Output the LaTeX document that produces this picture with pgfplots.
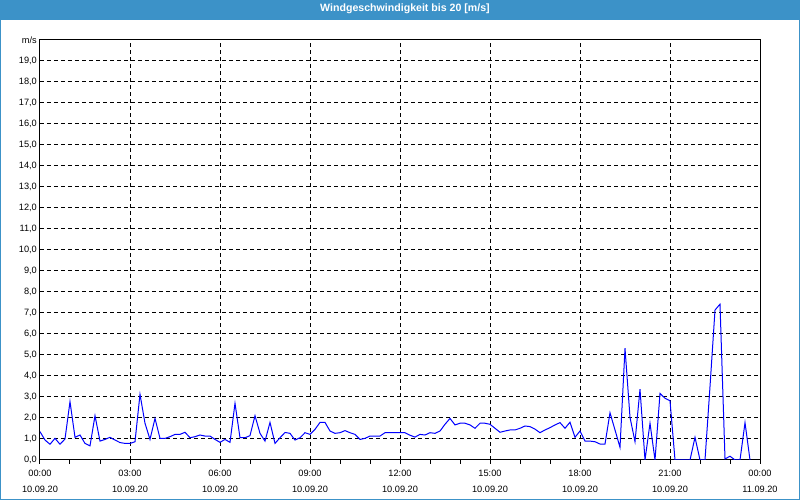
\documentclass[border=0pt]{standalone}
\usepackage{pgfplots}
\pgfplotsset{compat=1.18}
\usepackage{fontspec}
\setmainfont{Liberation Sans}
\definecolor{barblue}{RGB}{60,146,200}
\pgfplotstableread{
t v
0 1.35
10 0.95
20 0.75
30 1.03
40 0.75
50 1.00
60 2.78
70 1.08
80 1.19
90 0.79
100 0.67
110 2.11
120 0.90
130 0.98
140 1.08
150 0.95
160 0.83
170 0.79
180 0.79
190 0.87
200 3.13
210 1.75
220 0.98
230 1.98
240 1.03
250 1.03
260 1.11
270 1.22
280 1.22
290 1.32
300 1.06
310 1.11
320 1.19
330 1.14
340 1.14
350 0.98
360 0.84
370 0.98
380 0.84
390 2.70
400 1.06
410 1.06
420 1.16
430 2.11
440 1.27
450 0.90
460 1.79
470 0.79
480 1.06
490 1.31
500 1.27
510 0.95
520 1.06
530 1.30
540 1.22
550 1.46
560 1.79
570 1.79
580 1.38
590 1.27
600 1.30
610 1.40
620 1.30
630 1.22
640 0.98
650 1.03
660 1.14
670 1.14
680 1.14
690 1.30
700 1.30
710 1.30
720 1.30
730 1.30
740 1.18
750 1.09
760 1.22
770 1.19
780 1.30
790 1.27
800 1.38
810 1.70
820 1.98
830 1.67
840 1.75
850 1.75
860 1.67
870 1.51
880 1.75
890 1.75
900 1.70
910 1.51
920 1.32
930 1.38
940 1.43
950 1.43
960 1.51
970 1.62
980 1.59
990 1.47
1000 1.30
1010 1.43
1020 1.54
1030 1.67
1040 1.78
1050 1.51
1060 1.80
1070 1.08
1080 1.38
1090 0.90
1100 0.90
1110 0.87
1120 0.76
1130 0.76
1140 2.25
1150 1.43
1160 0.60
1170 5.32
1180 2.03
1190 0.87
1200 3.37
1210 0.00
1220 1.75
1230 0.00
1240 3.17
1250 2.94
1260 2.82
1270 0.00
1280 0.00
1290 0.00
1300 0.00
1310 1.08
1320 0.00
1330 0.00
1340 3.50
1350 7.14
1360 7.42
1370 0.05
1380 0.18
1390 0.00
1400 0.00
1410 1.78
1420 0.00
}\wind
\begin{document}
\begin{tikzpicture}[x=1pt,y=1pt]
\path[use as bounding box] (-40,-40) rectangle (760,460);
\fill[white] (-40,-40) rectangle (760,460);
\fill[barblue] (-40,439.5) rectangle (760,460);
\draw[barblue,line width=1pt] (-39.5,-39.5) rectangle (759.5,459.5);
\node[white,font=\fontsize{10.6}{12}\selectfont\bfseries] at (365,451) {Windgeschwindigkeit bis 20 [m/s]};
\begin{axis}[
  at={(0,0)}, anchor=south west,
  scale only axis, width=720pt, height=420pt,
  xmin=0, xmax=1440, ymin=0, ymax=20,
  axis line style={black, line width=1pt},
  xtick={0,180,...,1440},
  minor x tick num=2,
  xticklabels={{00:00\\10.09.20},{03:00\\10.09.20},{06:00\\10.09.20},{09:00\\10.09.20},{12:00\\10.09.20},{15:00\\10.09.20},{18:00\\10.09.20},{21:00\\10.09.20},{00:00\\11.09.20}},
  xticklabel style={align=center, font=\fontsize{9.2}{15.5}\selectfont, inner sep=0pt, yshift=-6pt},
  ytick={0,1,...,20},
  yticklabels={{0,0},{1,0},{2,0},{3,0},{4,0},{5,0},{6,0},{7,0},{8,0},{9,0},{10,0},{11,0},{12,0},{13,0},{14,0},{15,0},{16,0},{17,0},{18,0},{19,0},{\raisebox{-5pt}{m/s}}},
  yticklabel style={font=\fontsize{9.2}{10}\selectfont, inner sep=0pt, xshift=1pt},
  tick align=outside,
  xtick pos=bottom, ytick pos=left,
  major tick length=4pt, minor tick length=4pt,
  xtick style={black, line width=1pt},
  ytick style={draw=none},
  xmajorgrids, ymajorgrids,
  major grid style={black, line width=1pt, dash pattern=on 4pt off 3pt},
]
\addplot[blue, line width=1pt, sharp plot, mark=none] table[x=t, y=v] {\wind};
\end{axis}
\end{tikzpicture}
\end{document}
